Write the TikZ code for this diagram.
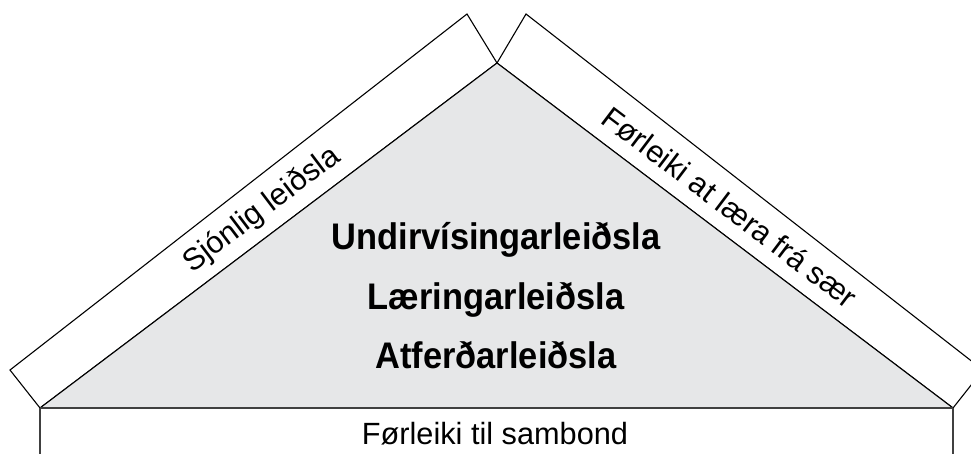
\documentclass[tikz,border=0pt]{standalone}
\usepackage{fontspec}
\setmainfont{Liberation Sans}
\newfontfamily\headfont[FakeStretch=0.93]{Liberation Sans}
\usepackage{xcolor}
\usepackage{tikz}
\usetikzlibrary{positioning,calc}

\definecolor{triggrey}{HTML}{E6E7E8}
\definecolor{basegrey}{HTML}{404040}

\begin{document}
\begin{tikzpicture}[
    x=1pt, y=-1pt,
    band/.style={draw=black, line width=1.1pt, line join=miter},
    label/.style={inner sep=0pt, font=\fontsize{30.7}{36}\selectfont},
    head/.style={inner sep=0pt, anchor=base, font=\headfont\bfseries\fontsize{37}{40}\selectfont}
]
    \useasboundingbox (0,0) rectangle (971,453);
    \clip (0,0) rectangle (971,453);

    % corners
    \coordinate (apex) at (497,63);
    \coordinate (bl) at (40,408);
    \coordinate (br) at (953,408);
    \coordinate (lo1) at (10,370);
    \coordinate (lo2) at (467,14);
    \coordinate (ro1) at (983,370);
    \coordinate (ro2) at (526,14);

    % side bands and triangle
    \draw[band, fill=white] (bl) -- (lo1) -- (lo2) -- (apex) -- cycle;
    \draw[band, fill=white] (br) -- (ro1) -- (ro2) -- (apex) -- cycle;
    \fill[triggrey] (apex) -- (bl) -- (br) -- cycle;
    \draw[band] (bl) -- (apex) -- (br);

    % bottom band
    \draw[basegrey, line width=1.6pt] (bl) -- (br);
    \draw[basegrey, line width=1.6pt] (bl) -- ++(0,60);
    \draw[basegrey, line width=1.6pt] (br) -- ++(0,60);

    % texts
    \node[head] (top) at (496,249) {Undirvísingarleiðsla};
    \node[head] (mid) at ($(top.base)+(0,60)$) {Læringarleiðsla};
    \node[head] (low) at ($(mid.base)+(0,59)$) {Atferðarleiðsla};
    \node[label, anchor=base] (base) at (495,444) {Førleiki til sambond};
    \node[label, rotate=37.1] (left) at (262,210) {Sjónlig leiðsla};
    \node[label, rotate=-37.1] (right) at (730,207) {Førleiki at læra frá sær};
\end{tikzpicture}
\end{document}
